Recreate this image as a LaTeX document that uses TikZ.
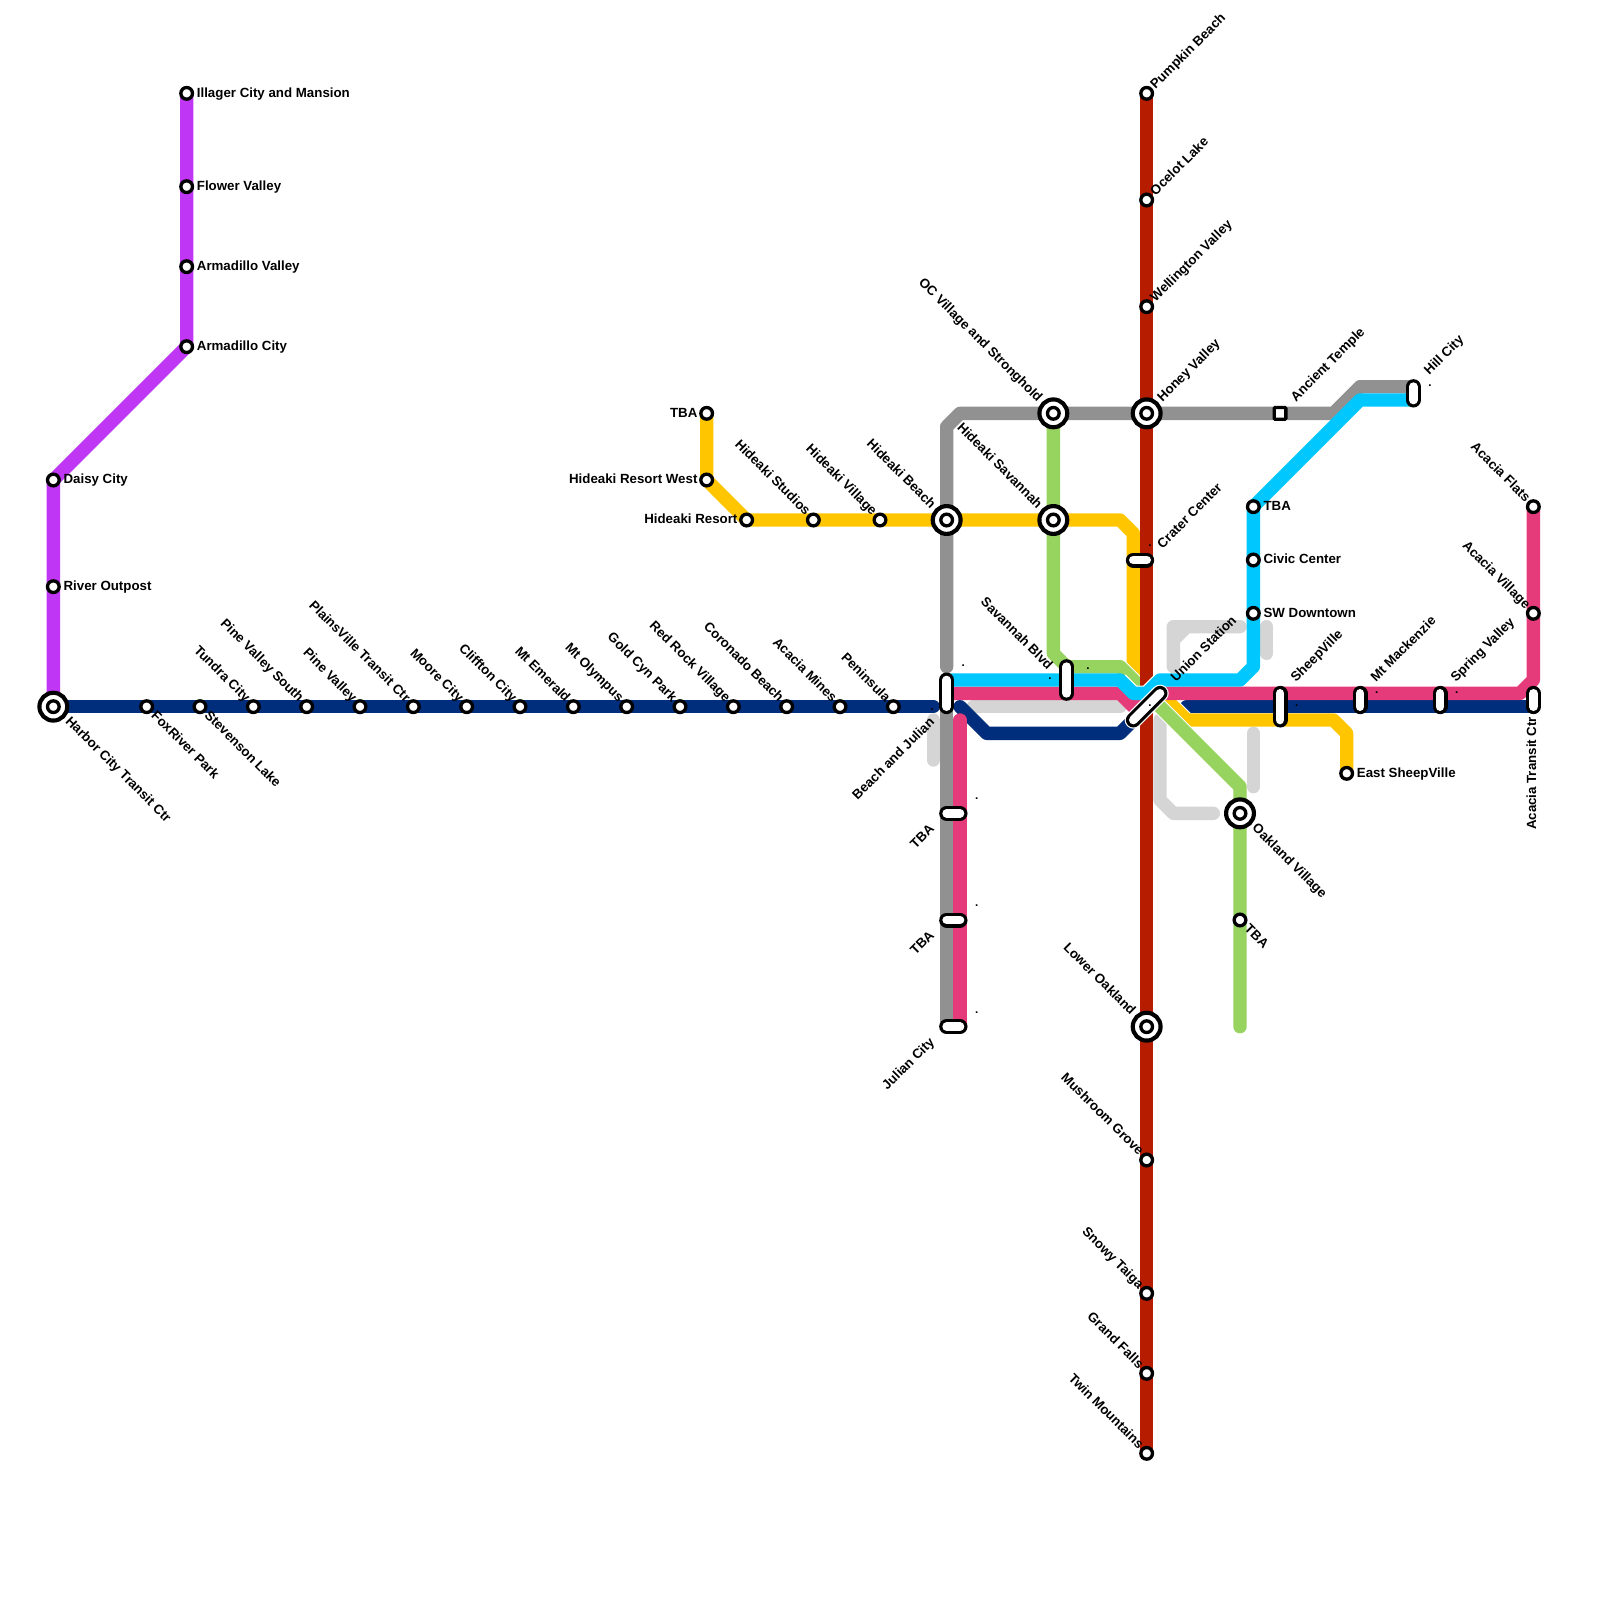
\documentclass[tikz,border=0pt]{standalone}
\usepackage{fontspec}
\setmainfont{Liberation Sans}
\usetikzlibrary{calc}
\definecolor{cpurple}{HTML}{BF36F4}
\definecolor{cnavy}{HTML}{002D7C}
\definecolor{cred}{HTML}{B51C00}
\definecolor{ccyan}{HTML}{00C8FF}
\definecolor{cpink}{HTML}{E63B7A}
\definecolor{cyellow}{HTML}{FFC600}
\definecolor{cgreen}{HTML}{96D35F}
\definecolor{cgray}{HTML}{919191}
\definecolor{clight}{HTML}{D5D5D5}
\tikzset{
 route/.style={line width=0.4cm,line cap=round,line join=round},
 casing/.style={line width=0.47cm,line cap=butt,line join=round,draw=white},
 stn/.style={circle,draw=black,fill=white,line width=0.1cm,minimum size=0.35cm,inner sep=0pt},
 hub/.style={circle,draw=black,fill=white,line width=0.125cm,minimum size=0.835cm,inner sep=0pt},
 sqr/.style={rectangle,rounded corners=0.03cm,draw=black,fill=white,line width=0.1cm,minimum size=0.35cm,inner sep=0pt},
 pillout/.style={line width=0.45cm,line cap=round,draw=black},
 pillin/.style={line width=0.26cm,line cap=round,draw=white},
 lbl/.style={inner sep=0pt,font=\fontsize{11.35pt}{13pt}\selectfont\bfseries,text=black},
 R/.style={lbl,xshift=0.3cm,yshift=-0.02cm,anchor=mid west},
 L/.style={lbl,xshift=-0.27cm,yshift=-0.02cm,anchor=mid east},
 ul/.style={lbl,xshift=-0.18cm,yshift=0.18cm,rotate=-45,anchor=mid east},
 ulb/.style={lbl,xshift=-0.42cm,yshift=0.39cm,rotate=-45,anchor=mid east},
 ur/.style={lbl,xshift=0.2cm,yshift=0.18cm,rotate=45,anchor=mid west},
 urb/.style={lbl,xshift=0.41cm,yshift=0.39cm,rotate=45,anchor=mid west},
 dr/.style={lbl,xshift=0.18cm,yshift=-0.22cm,rotate=-45,anchor=mid west},
 drb/.style={lbl,xshift=0.41cm,yshift=-0.39cm,rotate=-45,anchor=mid west},
 dl/.style={lbl,xshift=-0.41cm,yshift=-0.42cm,rotate=45,anchor=mid east},
 tick/.style={inner sep=0pt,font=\fontsize{9.9pt}{12pt}\selectfont\bfseries},
}
\begin{document}
\begin{tikzpicture}[x=0.4cm,y=-0.4cm]
\useasboundingbox (0,0) rectangle (120,120);
\fill[white] (0,0) rectangle (120,120);
% stations: purple
\coordinate (illager) at (14,7);
\coordinate (flower) at (14,14);
\coordinate (armv) at (14,20);
\coordinate (armc) at (14,26);
\coordinate (daisy) at (4,36);
\coordinate (river) at (4,44);
\coordinate (harbor) at (4,53);
% navy
\coordinate (fox) at (11,53);
\coordinate (stev) at (15,53);
\coordinate (tundra) at (19,53);
\coordinate (pvs) at (23,53);
\coordinate (pv) at (27,53);
\coordinate (plains) at (31,53);
\coordinate (moore) at (35,53);
\coordinate (cliff) at (39,53);
\coordinate (emer) at (43,53);
\coordinate (olym) at (47,53);
\coordinate (gold) at (51,53);
\coordinate (redrock) at (55,53);
\coordinate (coro) at (59,53);
\coordinate (mines) at (63,53);
\coordinate (penin) at (67,53);
\coordinate (navyend) at (70,53);
\coordinate (nb1) at (72,53);
\coordinate (nb2) at (74,55);
\coordinate (nb3) at (84,55);
\coordinate (nb4) at (86,53);
\coordinate (nb5) at (89,53);
% yellow
\coordinate (ytba) at (53,31);
\coordinate (hrw) at (53,36);
\coordinate (hr) at (56,39);
\coordinate (hst) at (61,39);
\coordinate (hv) at (66,39);
\coordinate (hb) at (71,39);
\coordinate (hs) at (79,39);
\coordinate (yb1) at (84,39);
\coordinate (yb2) at (85,40);
\coordinate (yb3) at (85,50);
\coordinate (yb4) at (89,54);
\coordinate (yb5) at (100,54);
\coordinate (yb6) at (101,55);
\coordinate (esv) at (101,58);
% green
\coordinate (oc) at (79,31);
\coordinate (gb1) at (79,49);
\coordinate (gb2) at (80,50);
\coordinate (gb3) at (84,50);
\coordinate (gb4) at (93,59);
\coordinate (oak) at (93,61);
\coordinate (gtba) at (93,69);
\coordinate (gend) at (93,77);
% red
\coordinate (pump) at (86,7);
\coordinate (ocelot) at (86,15);
\coordinate (well) at (86,23);
\coordinate (honey) at (86,31);
\coordinate (lower) at (86,77);
\coordinate (mush) at (86,87);
\coordinate (snowy) at (86,97);
\coordinate (grand) at (86,103);
\coordinate (twin) at (86,109);
% gray
\coordinate (ga1) at (71,50);
\coordinate (ga2) at (71,32);
\coordinate (ga3) at (72,31);
\coordinate (temple) at (96,31);
\coordinate (ga4) at (100,31);
\coordinate (ga5) at (102,29);
\coordinate (hill1) at (106,29);
\coordinate (hill2) at (106,30);
\coordinate (bj3) at (71,53);
\coordinate (jul1) at (71,77);
\coordinate (jul2) at (72,77);
% pink
\coordinate (bj2) at (71,52);
\coordinate (pk1) at (84,52);
\coordinate (pk2) at (85,53);
\coordinate (pk3) at (86,53);
\coordinate (pk4) at (87,52);
\coordinate (pk5) at (114,52);
\coordinate (pk6) at (115,51);
\coordinate (acv) at (115,46);
\coordinate (acf) at (115,38);
\coordinate (pk7) at (72,54);
\coordinate (act1) at (115,52);
\coordinate (act2) at (115,53);
% cyan
\coordinate (bj1) at (71,51);
\coordinate (cy1) at (84,51);
\coordinate (cy2) at (85,52);
\coordinate (cy3) at (86,52);
\coordinate (cy4) at (87,51);
\coordinate (cy5) at (93,51);
\coordinate (cy6) at (94,50);
\coordinate (sw) at (94,46);
\coordinate (civic) at (94,42);
\coordinate (ctba) at (94,38);
\coordinate (cy7) at (102,30);
% pills
\coordinate (t1a) at (71,61);
\coordinate (t1b) at (72,61);
\coordinate (t2a) at (71,69);
\coordinate (t2b) at (72,69);
\coordinate (sava) at (80,50);
\coordinate (savb) at (80,52);
\coordinate (cra) at (85,42);
\coordinate (crb) at (86,42);
\coordinate (una) at (85,54);
\coordinate (unb) at (87,52);
\coordinate (sha) at (96,52);
\coordinate (shb) at (96,54);
\coordinate (mma) at (102,52);
\coordinate (mmb) at (102,53);
\coordinate (spa) at (108,52);
\coordinate (spb) at (108,53);
% pale planned lines
\coordinate (la1) at (73,53);
\coordinate (la2) at (84,53);
\coordinate (lb1) at (70,54);
\coordinate (lb2) at (70,57);
\coordinate (lc1) at (87,54);
\coordinate (lc2) at (87,60);
\coordinate (lc3) at (88,61);
\coordinate (lc4) at (91,61);
\coordinate (ld1) at (88,50);
\coordinate (ld2) at (88,47);
\coordinate (ld5) at (88,48);
\coordinate (ld3) at (89,47);
\coordinate (ld4) at (93,47);
\coordinate (le1) at (95,47);
\coordinate (le2) at (95,49);
\coordinate (lf1) at (94,55);
\coordinate (lf2) at (94,59);
% routes
\draw[route,clight] (la1)--(la2);
\draw[route,clight] (lb1)--(lb2);
\draw[route,clight] (lc1)--(lc2)--(lc3)--(lc4);
\draw[route,clight] (ld1)--(ld2)--(ld4) (ld5)--(ld3);
\draw[route,clight] (le1)--(le2);
\draw[route,clight] (lf1)--(lf2);
\draw[route,cnavy] (harbor)--(navyend);
\draw[route,cnavy] (nb1)--(nb2)--(nb3)--(nb4);
\draw[route,cnavy] (nb5)--(act2);
\draw[casing] (yb3)--(yb4);
\draw[route,cyellow] (ytba)--(hrw)--(hr)--(yb1)--(yb2)--(yb3)--(yb4)--(yb5)--(yb6)--(esv);
\draw[casing] (gb3)--(gb4);
\draw[route,cgreen] (oc)--(gb1)--(gb2)--(gb3)--(gb4)--(oak)--(gend);
\draw[route,cred] (pump)--(twin);
\draw[route,cgray] (ga1)--(ga2)--(ga3)--(ga4)--(ga5)--(hill1);
\draw[route,cgray] (bj3)--(jul1);
\draw[casing] (cy1)--(cy2)--(cy3)--(cy4);
\draw[route,cpink] (bj2)--(pk1)--(pk2)--(pk3)--(pk4)--(pk5)--(pk6)--(acf);
\draw[route,cpink] (pk7)--(jul2);
\draw[route,ccyan] (bj1)--(cy1)--(cy2)--(cy3)--(cy4)--(cy5)--(cy6)--(ctba)--(cy7)--(hill2);
\draw[route,cpurple] (illager)--(armc)--(daisy)--(harbor);
% interchange discs
\foreach \n in {harbor,hb,hs,oc,honey,oak,lower}
  \node[hub] (h-\n) at (\n) {};
% plain stations
\foreach \n in {harbor,hb,hs,oc,honey,oak,lower,illager,flower,armv,armc,daisy,river,fox,stev,tundra,pvs,pv,plains,moore,cliff,emer,olym,gold,redrock,coro,mines,penin,ytba,hrw,hr,hst,hv,esv,gtba,pump,ocelot,well,mush,snowy,grand,twin,ctba,civic,sw,acf,acv}
  \node[stn] (m-\n) at (\n) {};
\node[sqr] (m-temple) at (temple) {};
% pills
\draw[line width=0.52cm,line cap=round,draw=white] (una)--(unb);
\foreach \a/\b in {bj1/bj3,t1a/t1b,t2a/t2b,jul1/jul2,sava/savb,cra/crb,una/unb,sha/shb,mma/mmb,spa/spb,act1/act2,hill1/hill2}{
  \draw[pillout] (\a)--(\b);
  \draw[pillin] (\a)--(\b);
}
% labels
\node[R] (t-illager) at (illager) {Illager City and Mansion};
\node[R] (t-flower) at (flower) {Flower Valley};
\node[R] (t-armv) at (armv) {Armadillo Valley};
\node[R] (t-armc) at (armc) {Armadillo City};
\node[R] (t-daisy) at (daisy) {Daisy City};
\node[R] (t-river) at (river) {River Outpost};
\node[drb] (t-harbor) at (harbor) {Harbor City Transit Ctr};
\node[dr] (t-fox) at (fox) {FoxRiver Park};
\node[dr] (t-stev) at (stev) {Stevenson Lake};
\node[ul] (t-tundra) at (tundra) {Tundra City};
\node[ul] (t-pvs) at (pvs) {Pine Valley South};
\node[ul] (t-pv) at (pv) {Pine Valley};
\node[ul] (t-plains) at (plains) {PlainsVille Transit Ctr};
\node[ul] (t-moore) at (moore) {Moore City};
\node[ul] (t-cliff) at (cliff) {Cliffton City};
\node[ul] (t-emer) at (emer) {Mt Emerald};
\node[ul] (t-olym) at (olym) {Mt Olympus};
\node[ul] (t-gold) at (gold) {Gold Cyn Park};
\node[ul] (t-redrock) at (redrock) {Red Rock Village};
\node[ul] (t-coro) at (coro) {Coronado Beach};
\node[ul] (t-mines) at (mines) {Acacia Mines};
\node[ul] (t-penin) at (penin) {Peninsula};
\node[L] (t-ytba) at (ytba) {TBA};
\node[L] (t-hrw) at (hrw) {Hideaki Resort West};
\node[L] (t-hr) at (hr) {Hideaki Resort};
\node[ul] (t-hst) at (hst) {Hideaki Studios};
\node[ul] (t-hv) at (hv) {Hideaki Village};
\node[ulb] (t-hb) at (hb) {Hideaki Beach};
\node[ulb] (t-hs) at (hs) {Hideaki Savannah};
\node[ulb] (t-oc) at (oc) {OC Village and Stronghold};
\node[ulb,xshift=0.25cm,yshift=-0.37cm] (t-sav) at (sava) {Savannah Blvd};
\node[dl] (t-bj) at (bj3) {Beach and Julian};
\node[dl] (t-t1) at (t1a) {TBA};
\node[dl] (t-t2) at (t2a) {TBA};
\node[dl] (t-jul) at (jul1) {Julian City};
\node[ur] (t-pump) at (pump) {Pumpkin Beach};
\node[ur] (t-ocelot) at (ocelot) {Ocelot Lake};
\node[ur] (t-well) at (well) {Wellington Valley};
\node[urb] (t-honey) at (honey) {Honey Valley};
\node[urb] (t-crater) at (crb) {Crater Center};
\node[urb] (t-union) at (unb) {Union Station};
\node[urb] (t-temple) at (temple) {Ancient Temple};
\node[urb] (t-hill) at (hill1) {Hill City};
\node[urb] (t-sheep) at (sha) {SheepVille};
\node[urb] (t-mack) at (mma) {Mt Mackenzie};
\node[urb] (t-spring) at (spa) {Spring Valley};
\node[ulb] (t-lower) at (lower) {Lower Oakland};
\node[ul] (t-mush) at (mush) {Mushroom Grove};
\node[ul] (t-snowy) at (snowy) {Snowy Taiga};
\node[ul] (t-grand) at (grand) {Grand Falls};
\node[ul] (t-twin) at (twin) {Twin Mountains};
\node[R] (t-ctba) at (ctba) {TBA};
\node[R] (t-civic) at (civic) {Civic Center};
\node[R] (t-sw) at (sw) {SW Downtown};
\node[R] (t-esv) at (esv) {East SheepVille};
\node[drb] (t-oak) at (oak) {Oakland Village};
\node[dr] (t-gtba) at (gtba) {TBA};
\node[ul] (t-acf) at (acf) {Acacia Flats};
\node[ul] (t-acv) at (acv) {Acacia Village};
\node[lbl,yshift=-0.3cm,xshift=-0.01cm,rotate=90,anchor=mid east] (t-act) at (act2) {Acacia Transit Ctr};
% tiny marks
\foreach \i/\x/\y in {1/72.25/49.93,2/78.75/50.93,3/81.6/50.15,4/86.25/52.95,5/73.25/59.93,6/73.25/67.95,7/73.25/75.98,8/69.9/53.25,9/107.25/28.93,10/97.25/52.93,11/103.25/51.92,12/109.25/51.92,13/86.25/40.93}
  \node[tick] (d\i) at (\x,\y) {.};
\end{tikzpicture}
\end{document}
